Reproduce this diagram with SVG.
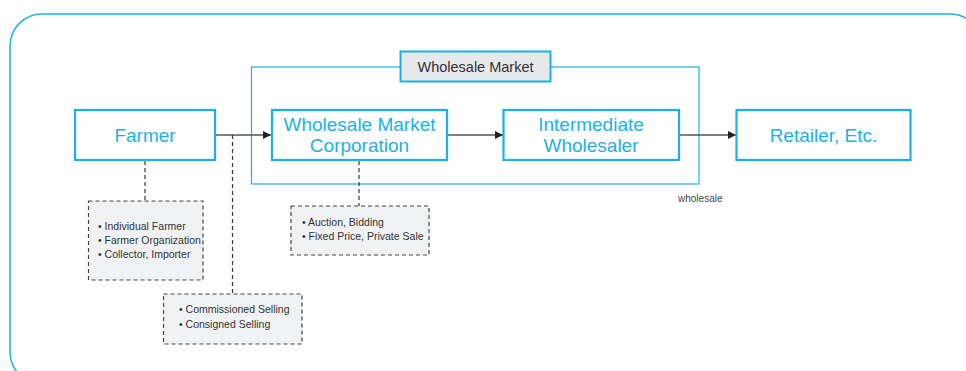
<svg xmlns="http://www.w3.org/2000/svg" width="966" height="371" viewBox="0 0 966 371">
<defs>
<style>
.frame{fill:none;stroke:#1cb1e6;stroke-width:1.5}
.node{fill:#fff;stroke:#1cb1e6;stroke-width:2.2}
.ntext{font-family:"Liberation Sans",Arial,sans-serif;font-size:19px;fill:#1cb1e6;text-anchor:middle}
.note{fill:#f0f1f3;stroke:#444;stroke-width:1.2;stroke-dasharray:4 3}
.ttext{font-family:"Liberation Sans",Arial,sans-serif;font-size:10.5px;fill:#333}
.conn{stroke:#555;stroke-width:1.4;fill:none}
.dash{stroke:#333;stroke-width:1.2;fill:none;stroke-dasharray:4 3}
</style>
<marker id="ah" viewBox="0 0 10 10" refX="10" refY="5" markerWidth="8" markerHeight="8" markerUnits="userSpaceOnUse" orient="auto">
<path d="M0,0 L10,5 L0,10 Z" fill="#222"/>
</marker>
</defs>
<rect x="10" y="14" width="972" height="370" rx="32" ry="32" class="frame"/>
<g id="wholesale-market">
<rect x="251.5" y="67" width="447.5" height="117" fill="none" stroke="#1cb1e6" stroke-width="1.2"/>
<rect x="400.5" y="51.5" width="150" height="30" fill="#e6e8ea" stroke="#1cb1e6" stroke-width="2"/>
<text x="475.5" y="72" font-family="'Liberation Sans',Arial,sans-serif" font-size="14.5" fill="#333" text-anchor="middle">Wholesale Market</text>
<text x="678" y="202" font-family="'Liberation Sans',Arial,sans-serif" font-size="10" fill="#444">wholesale</text>
</g>
<g id="connectors">
<line x1="216" y1="135" x2="271" y2="135" class="conn" marker-end="url(#ah)"/>
<line x1="448" y1="135" x2="503" y2="135" class="conn" marker-end="url(#ah)"/>
<line x1="680" y1="135" x2="736" y2="135" class="conn" marker-end="url(#ah)"/>
<line x1="145" y1="161" x2="145" y2="201" class="dash"/>
<line x1="232.5" y1="135" x2="232.5" y2="294" class="dash"/>
<line x1="359" y1="161" x2="359" y2="206" class="dash"/>
</g>
<g id="farmer">
<rect x="75" y="110" width="140" height="50" class="node"/>
<text x="145" y="141.5" class="ntext">Farmer</text>
</g>
<g id="wmc">
<rect x="272" y="110" width="175" height="50" class="node"/>
<text x="359.5" y="131" class="ntext">Wholesale Market</text>
<text x="359.5" y="152" class="ntext">Corporation</text>
</g>
<g id="iw">
<rect x="503.5" y="110" width="175.5" height="50" class="node"/>
<text x="591" y="131" class="ntext">Intermediate</text>
<text x="591" y="152" class="ntext">Wholesaler</text>
</g>
<g id="retailer">
<rect x="736.5" y="110" width="174" height="50" class="node"/>
<text x="823.5" y="141.5" class="ntext">Retailer, Etc.</text>
</g>
<g id="note-farmer">
<rect x="88.5" y="201" width="114.5" height="79" class="note"/>
<text x="98" y="230" class="ttext">• Individual Farmer</text>
<text x="98" y="244" class="ttext">• Farmer Organization</text>
<text x="98" y="258" class="ttext">• Collector, Importer</text>
</g>
<g id="note-selling">
<rect x="163.5" y="294" width="138.5" height="50" class="note"/>
<text x="179" y="313" class="ttext">• Commissioned Selling</text>
<text x="179" y="327.5" class="ttext">• Consigned Selling</text>
</g>
<g id="note-auction">
<rect x="291" y="206" width="138" height="49" class="note"/>
<text x="302" y="226" class="ttext">• Auction, Bidding</text>
<text x="302" y="239.5" class="ttext">• Fixed Price, Private Sale</text>
</g>
</svg>
